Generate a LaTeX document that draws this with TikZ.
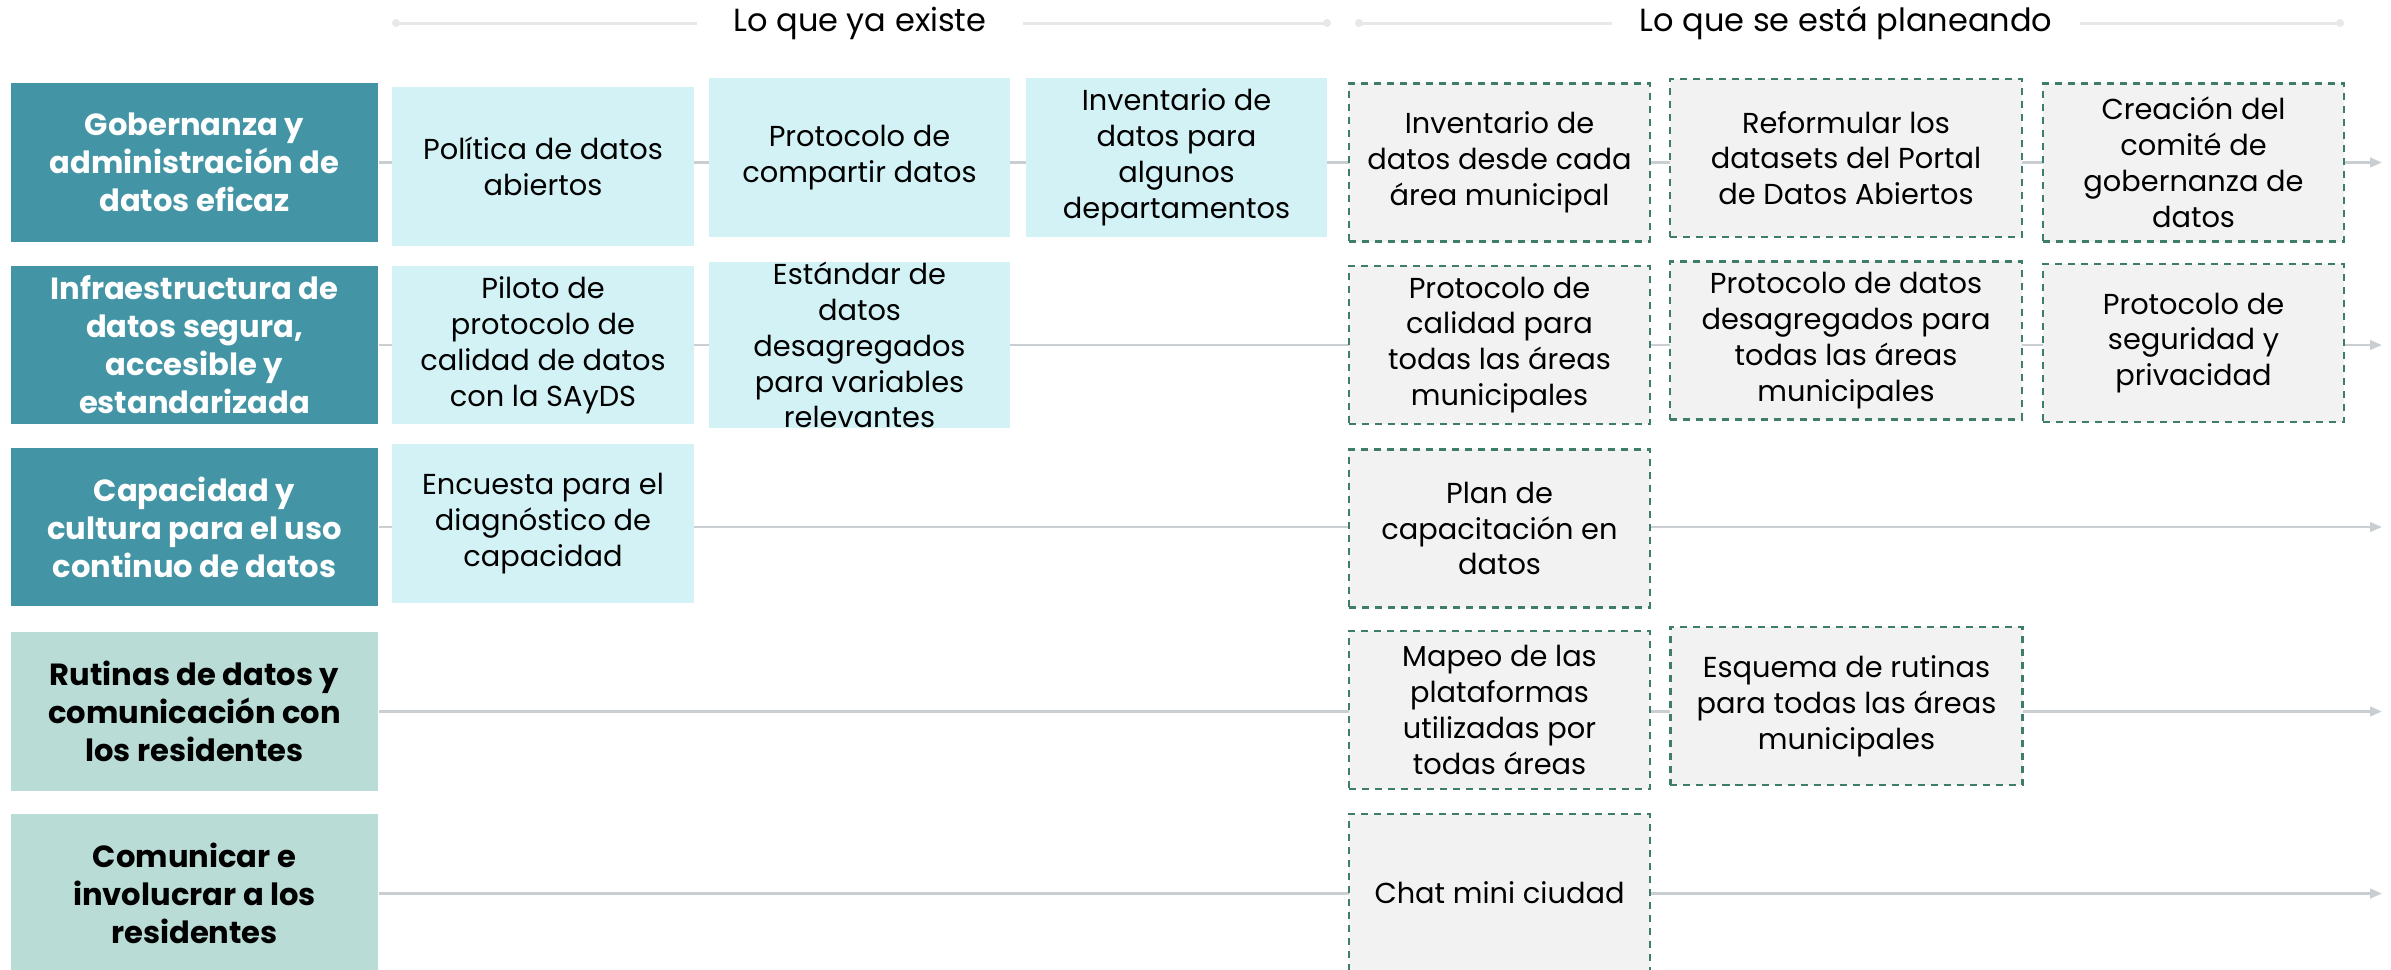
\documentclass[tikz,border=0pt]{standalone}
\usepackage{fontspec}
\setmainfont{Poppins}
\usetikzlibrary{positioning,arrows.meta,backgrounds}

\definecolor{tealdark}{HTML}{4395A5}
\definecolor{teallight}{HTML}{B9DCD6}
\definecolor{cyanbox}{HTML}{D3F2F6}
\definecolor{planbox}{HTML}{F2F2F2}
\definecolor{planedge}{HTML}{3E7D6C}
\definecolor{rowline}{HTML}{C9CED2}
\definecolor{headline}{HTML}{E8E8E8}

\tikzset{
  caja/.style={inner sep=0pt, align=center, font=\fontsize{8.2}{10.2}\selectfont,
    minimum width=3.01cm, minimum height=1.58cm},
  eje/.style={caja, font=\fontsize{8.7}{10.8}\selectfont\bfseries, minimum width=3.67cm},
  ejeoscuro/.style={eje, fill=tealdark, text=white},
  ejeclaro/.style={eje, fill=teallight, text=black},
  hecho/.style={caja, fill=cyanbox},
  plan/.style={caja, fill=planbox, draw=planedge, line width=0.65pt,
    dash pattern=on 2pt off 1.7pt},
  planancho/.style={plan, minimum width=3.52cm},
  fila/.style={draw=rowline, line width=0.75pt, -{Triangle[length=3.4pt,width=2.7pt]}},
  titulo/.style={inner ysep=0pt, font=\fontsize{9.1}{11}\selectfont},
  guia/.style={draw=headline, line width=0.85pt},
  punto/.style={fill=headline}
}

\begin{document}
\begin{tikzpicture}[x=0.01cm,y=-0.01cm]
\useasboundingbox (0,0) rectangle (2391,969);

% encabezados
\node[titulo, inner xsep=0.36cm] (ya) at (860,23) {Lo que ya existe};
\node[titulo, inner xsep=0.27cm] (plan) at (1846,23) {Lo que se está planeando};
\coordinate (ya1) at (396,23);
\coordinate (ya2) at (1327,23);
\coordinate (pl1) at (1359,23);
\coordinate (pl2) at (2340,23);
\draw[guia] (ya1) -- (ya.west) (ya.east) -- (ya2);
\draw[guia] (pl1) -- (plan.west) (plan.east) -- (pl2);
\foreach \p in {ya1,ya2,pl1,pl2}
  \fill[punto] (\p) circle (4);

% ejes
\node[ejeoscuro] (g1) at (194.5,162.5) {Gobernanza y\\administración de\\datos eficaz};
\node[ejeoscuro] (g2) at (194.5,345) {Infraestructura de\\datos segura,\\accesible y\\estandarizada};
\node[ejeoscuro] (g3) at (194.5,527) {Capacidad y\\cultura para el uso\\continuo de datos};
\node[ejeclaro] (g4) at (194.5,711.5) {Rutinas de datos y\\comunicación con\\los residentes};
\node[ejeclaro] (g5) at (194.5,893.5) {Comunicar e\\involucrar a los\\residentes};

% lo que ya existe
\node[hecho] (e11) at (543,166.5) {Política de datos\\abiertos};
\node[hecho] (e12) at (859.5,157.5) {Protocolo de\\compartir datos};
\node[hecho] (e13) at (1176.5,157.5) {Inventario de\\datos para\\algunos\\departamentos};
\node[hecho] (e21) at (543,345) {Piloto de\\protocolo de\\calidad de datos\\con la SAyDS};
\node[hecho] (e22) at (859.5,345) {Estándar de\\datos\\desagregados\\para variables\\relevantes};
\node[hecho] (e31) at (543,523.5) {Encuesta para el\\diagnóstico de\\capacidad};

% lo que se planea
\node[plan] (p11) at (1499.5,162.5) {Inventario de\\datos desde cada\\área municipal};
\node[planancho] (p12) at (1846,158) {Reformular los\\datasets del Portal\\de Datos Abiertos};
\node[plan] (p13) at (2193.5,162.5) {Creación del\\comité de\\gobernanza de\\datos};
\node[plan] (p21) at (1499.5,345) {Protocolo de\\calidad para\\todas las  áreas\\municipales};
\node[planancho] (p22) at (1846,340.5) {Protocolo de datos\\desagregados para\\todas las  áreas\\municipales};
\node[plan] (p23) at (2193.5,343) {Protocolo de\\seguridad y\\privacidad};
\node[plan] (p31) at (1499.5,528.5) {Plan de\\capacitación en\\datos};
\node[plan] (p41) at (1499.5,710) {Mapeo de las\\plataformas\\utilizadas por\\todas áreas};
\node[planancho] (p42) at (1846.5,706) {Esquema de rutinas\\para todas las áreas\\municipales};
\node[plan] (p51) at (1499.5,893) {Chat mini ciudad};

% lineas de cada fila
\coordinate (f1) at (2382,162.5);
\coordinate (f2) at (2382,345);
\coordinate (f3) at (2382,527);
\coordinate (f4) at (2382,711.5);
\coordinate (f5) at (2382,893.5);
\begin{scope}[on background layer]
\foreach \i in {1,...,5}
  \draw[fila] (g\i.east) -- (f\i);
\end{scope}
\end{tikzpicture}
\end{document}
